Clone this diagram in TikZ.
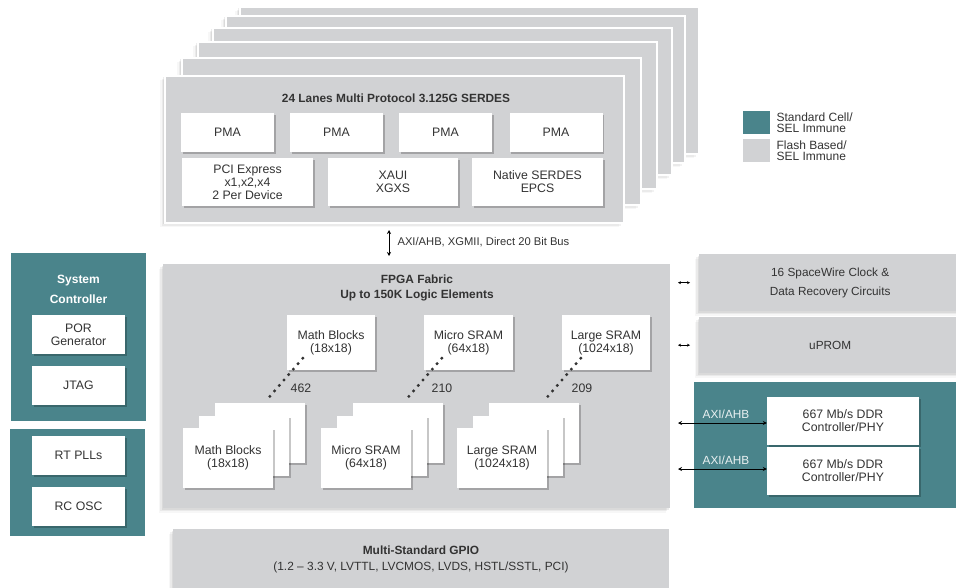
\documentclass[tikz,border=0pt]{standalone}
\usepackage{fontspec}
\setmainfont{Liberation Sans}
\usetikzlibrary{arrows.meta}
\usetikzlibrary{calc}
\usetikzlibrary{positioning}
\usetikzlibrary{shadows}

\definecolor{panelGray}{HTML}{D1D2D4}
\definecolor{cellTeal}{HTML}{4A848B}
\definecolor{txtGray}{HTML}{333333}

\begin{document}
\begin{tikzpicture}[x=1pt,y=-1pt,
    font=\fontsize{12.3}{13}\selectfont, text=txtGray,
    panel/.style={fill=panelGray, inner sep=0pt, anchor=north west,
      drop shadow={shadow xshift=-1.5pt, shadow yshift=-1.5pt, opacity=0.07, fill=black},
      drop shadow={shadow xshift=-3pt, shadow yshift=-3pt, opacity=0.05, fill=black},
      drop shadow={shadow xshift=-4.5pt, shadow yshift=-4.5pt, opacity=0.03, fill=black}},
    layer/.style={panel, draw=white, line width=1.5pt, minimum width=459pt, minimum height=147pt},
    tealbox/.style={fill=cellTeal, inner sep=0pt, anchor=north west},
    wbox/.style={fill=white, inner sep=0pt, align=center,
      drop shadow={shadow xshift=1.5pt, shadow yshift=-1.5pt, opacity=0.22, fill=black}},
    headText/.style={font=\fontsize{11.9}{15}\selectfont\bfseries, align=center},
    dotline/.style={draw=black!80, line width=3.4pt, line cap=round, dash pattern=on 0pt off 7.2pt},
    bus/.style={{Stealth[length=4pt,width=4pt]}-{Stealth[length=4pt,width=4pt]}, line width=0.8pt, draw=black},
    tinybus/.style={{Stealth[length=3pt,width=3pt]}-{Stealth[length=3pt,width=3pt]}, line width=0.6pt, draw=black}
  ]
  \useasboundingbox (0,0) rectangle (956,587);

  % SERDES stack
  \foreach \lx/\ly in {239/6, 225/15, 212/27, 197/41, 181/57}
    \node[layer] at (\lx,\ly) {};
  \node[layer] (serdes) at (164,75) {};
  \node[headText] (serdesTitle) at (396,98) {24 Lanes Multi Protocol 3.125G SERDES};
  \foreach \px [count=\i] in {227.5,336.5,445.5,556}
    \node[wbox, minimum width=93pt, minimum height=39pt] (pma\i) at (\px,132.5) {PMA};
  \node[wbox, minimum width=131pt, minimum height=48pt] (pcie) at (247.5,182) {PCI Express\\x1,x2,x4\\2 Per Device};
  \node[wbox, minimum width=130pt, minimum height=48pt] (xaui) at (393,182) {XAUI\\XGXS};
  \node[wbox, minimum width=131pt, minimum height=48pt] (native) at (537.5,182) {Native SERDES\\EPCS};

  % bus to fabric
  \coordinate (busTop) at (389,230);
  \coordinate (busBot) at (389,256);
  \draw[bus] (busTop) -- (busBot);
  \node[anchor=west, font=\fontsize{11.2}{12}\selectfont] (busLabel) at (394,242) {AXI/AHB, XGMII, Direct 20 Bit Bus};

  % FPGA fabric
  \node[panel, minimum width=507pt, minimum height=244pt] (fabric) at (163,264) {};
  \node[headText] (fabricTitle) at (417,287.5) {FPGA Fabric\\Up to 150K Logic Elements};
  \node[wbox, minimum width=88pt, minimum height=55pt] (mathTop) at (331,342.5) {Math Blocks\\(18x18)};
  \node[wbox, minimum width=89pt, minimum height=55pt] (microTop) at (468.5,342.5) {Micro SRAM\\(64x18)};
  \node[wbox, minimum width=88pt, minimum height=55pt] (largeTop) at (606,342.5) {Large SRAM\\(1024x18)};

  \node[wbox, minimum width=90pt, minimum height=60pt] (mathBack) at (260,433) {};
  \node[wbox, minimum width=90pt, minimum height=60pt] (mathMid) at (244,446) {};
  \node[wbox, minimum width=90pt, minimum height=60pt] (mathFront) at (228,458) {Math Blocks\\(18x18)};
  \node[wbox, minimum width=90pt, minimum height=60pt] (microBack) at (398,433) {};
  \node[wbox, minimum width=90pt, minimum height=60pt] (microMid) at (382,446) {};
  \node[wbox, minimum width=90pt, minimum height=60pt] (microFront) at (366,458) {Micro SRAM\\(64x18)};
  \node[wbox, minimum width=90pt, minimum height=60pt] (largeBack) at (534,433) {};
  \node[wbox, minimum width=90pt, minimum height=60pt] (largeMid) at (518,446) {};
  \node[wbox, minimum width=90pt, minimum height=60pt] (largeFront) at (502,458) {Large SRAM\\(1024x18)};

  \draw[dotline] ($(mathTop.south west)+(16,-12)$) -- ($(mathBack.north)+(6,-2)$);
  \draw[dotline] ($(microTop.south west)+(18,-12)$) -- ($(microBack.north)+(7,-2)$);
  \draw[dotline] ($(largeTop.south west)+(19,-12)$) -- ($(largeBack.north)+(10,-2)$);
  \node (mathCount) at (301,388) {462};
  \node (microCount) at (442,388) {210};
  \node (largeCount) at (582,388) {209};

  % left column
  \node[tealbox, minimum width=135pt, minimum height=168pt] (sysCtrl) at (11,253) {};
  \node[headText, text=white, font=\fontsize{12}{20}\selectfont\bfseries] (sysTitle) at (78.5,289) {System\\Controller};
  \node[wbox, minimum width=93pt, minimum height=39pt] (por) at (78.5,334.5) {POR\\Generator};
  \node[wbox, minimum width=93pt, minimum height=39pt] (jtag) at (78.5,385.5) {JTAG};
  \node[tealbox, minimum width=135pt, minimum height=107pt] (clkBox) at (10,429) {};
  \node[wbox, minimum width=93pt, minimum height=39pt] (rtPll) at (78.5,455.5) {RT PLLs};
  \node[wbox, minimum width=93pt, minimum height=39pt] (rcOsc) at (78.5,506.5) {RC OSC};

  % right column
  \node[panel, minimum width=262pt, minimum height=57pt, align=center,
    font=\fontsize{11.8}{19}\selectfont] (spw) at (699,254) {16 SpaceWire Clock \&\\Data Recovery Circuits};
  \node[panel, minimum width=262pt, minimum height=56pt, font=\fontsize{11.8}{13}\selectfont] (uprom) at (699,317) {uPROM};
  \draw[tinybus] ($(spw.west)+(-21,0)$) -- ($(spw.west)+(-9,0)$);
  \draw[tinybus] ($(uprom.west)+(-21,0)$) -- ($(uprom.west)+(-9,0)$);
  \node[tealbox, minimum width=267pt, minimum height=126pt] (ddrBox) at (694,382) {};
  \node[wbox, minimum width=152pt, minimum height=48pt] (ddrA) at (843,421) {667 Mb/s DDR\\Controller/PHY};
  \node[wbox, minimum width=152pt, minimum height=48pt] (ddrB) at (843,471) {667 Mb/s DDR\\Controller/PHY};
  \coordinate (axiA) at (678,423);
  \coordinate (axiB) at (678,469);
  \draw[bus] (axiA) -- (axiA -| ddrA.west);
  \draw[bus] (axiB) -- (axiB -| ddrB.west);
  \node[text=white!88!cellTeal, font=\fontsize{11.8}{13}\selectfont] (axiLabelA) at (726,414) {AXI/AHB};
  \node[text=white!88!cellTeal, font=\fontsize{11.8}{13}\selectfont] (axiLabelB) at (726,460) {AXI/AHB};

  % legend
  \node[fill=cellTeal, minimum width=27pt, minimum height=23pt, inner sep=0pt, anchor=north west] (keyTeal) at (743,111) {};
  \node[fill=panelGray, minimum width=27pt, minimum height=23pt, inner sep=0pt, anchor=north west] (keyGray) at (743,139) {};
  \node[right=6pt of keyTeal, inner sep=0pt, align=left, font=\fontsize{12}{10.5}\selectfont] (keyTealText) {Standard Cell/\\SEL Immune};
  \node[right=6pt of keyGray, inner sep=0pt, align=left, font=\fontsize{12}{10.5}\selectfont] (keyGrayText) {Flash Based/\\SEL Immune};

  % GPIO
  \node[panel, minimum width=496pt, minimum height=60pt] (gpio) at (173,529) {};
  \node[align=center, font=\fontsize{11.9}{16}\selectfont] (gpioText) at (421,559) {\textbf{Multi-Standard GPIO}\\(1.2 – 3.3 V, LVTTL, LVCMOS, LVDS, HSTL/SSTL, PCI)};
\end{tikzpicture}
\end{document}
